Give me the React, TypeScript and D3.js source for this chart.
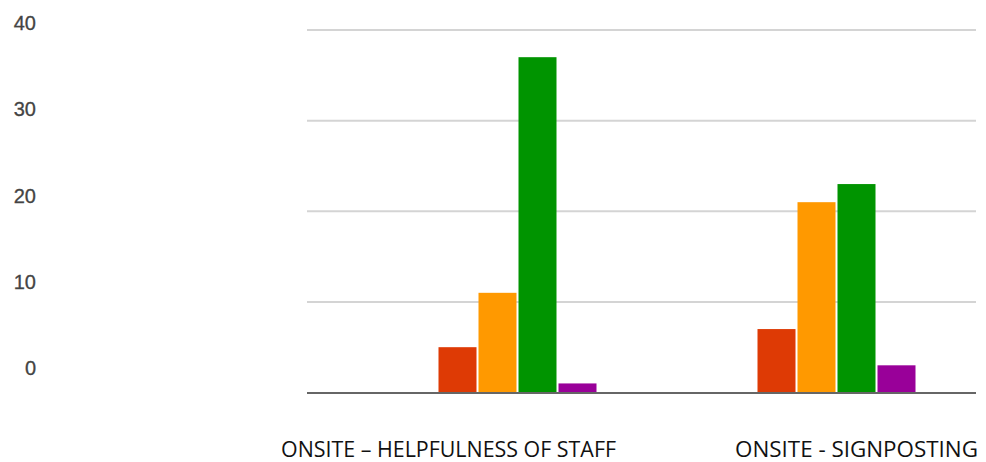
import React from "react";
import * as d3 from "d3";

const categories = ["ONSITE – HELPFULNESS OF STAFF", "ONSITE - SIGNPOSTING"];
const seriesNames = ["Poor", "Fair", "Good", "Excellent"];
const seriesColors = ["#de3a05", "#ff9900", "#009400", "#990099"];
const values = [
  [5, 11, 37, 1],
  [7, 21, 23, 3],
];
const yTicks = [0, 10, 20, 30, 40];
const labelOffsets = [-69, 20];
const labelWidths = [335, 243];

export default function App() {
  const W = 986, H = 462;
  const y = d3.scaleLinear().domain([0, 40]).range([392.5, 30]);
  const yLabel = d3.scaleLinear().domain([0, 40]).range([375, 30]);
  const x0 = d3.scaleBand<string>().domain(categories).range([358, 996]).padding(0);
  const groupW = 158;
  const x1 = d3.scaleBand<string>().domain(seriesNames).range([0, groupW]).paddingInner(0.05).paddingOuter(0);

  return (
    <svg width={W} height={H} style={{ position: "absolute", left: 0, top: 0, background: "#fff" }}>
      {yTicks.filter(t => t > 0).map(t => (
        <line key={t} x1={307} x2={976} y1={y(t)} y2={y(t)} stroke="#d4d4d4" strokeWidth={2} />
      ))}
      {yTicks.map(t => (
        <text key={"l" + t} x={36} y={yLabel(t)} textAnchor="end" fontFamily="Liberation Sans, Arial, sans-serif" fontSize={20} fill="#444" stroke="#444" strokeWidth={0.3}>
          {t}
        </text>
      ))}
      {categories.map((c, ci) => {
        const gx = (x0(c) as number) + (x0.bandwidth() - groupW) / 2;
        return (
          <g key={c}>
            {values[ci].map((v, si) => (
              <rect key={si} x={gx + (x1(seriesNames[si]) as number)} y={y(v)} width={x1.bandwidth()} height={y(0) - y(v)} fill={seriesColors[si]} />
            ))}
          </g>
        );
      })}
      <line x1={307} x2={976} y1={y(0) + 0.5} y2={y(0) + 0.5} stroke="#666" strokeWidth={2} />
      {categories.map((c, ci) => {
        const cx = (x0(c) as number) + x0.bandwidth() / 2 + labelOffsets[ci];
        return (
          <text key={"c" + c} x={cx} y={457} textAnchor="middle" fontFamily="Liberation Sans Narrow, Open Sans, sans-serif" fontSize={22} fill="#111" textLength={labelWidths[ci]} lengthAdjust="spacingAndGlyphs">
            {c}
          </text>
        );
      })}
    </svg>
  );
}
